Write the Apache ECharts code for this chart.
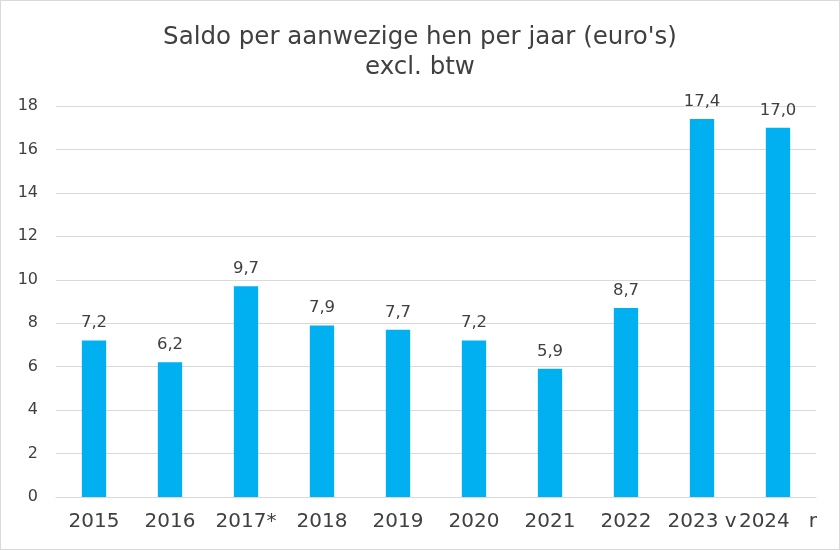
<!DOCTYPE html>
<html><head><meta charset="utf-8">
<script src="https://cdn.jsdelivr.net/npm/echarts@6/dist/echarts.min.js"></script>
<style>
html,body{margin:0;padding:0;background:#fff;}
#c{position:absolute;left:0;top:0;width:838px;height:548px;border:1px solid #d9d9d9;}
</style></head>
<body><div id="c"></div>
<script>
const categories = ['2015','2016','2017*','2018','2019','2020','2021','2022','2023 v','2024   r'];
const values = [7.2, 6.2, 9.7, 7.9, 7.7, 7.2, 5.9, 8.7, 17.4, 17.0];
const yTicks = [0, 2, 4, 6, 8, 10, 12, 14, 16, 18];
const FONT = "'DejaVu Sans', Verdana, sans-serif";

const chart = echarts.init(document.getElementById('c'));
chart.setOption({
  animation: false,
  title: {
    text: "Saldo per aanwezige hen per jaar (euro's)\nexcl. btw",
    left: 'center', top: 17,
    textStyle: {fontFamily: FONT, fontSize: 24.5, fontWeight: 'normal', color: '#404040', lineHeight: 30}
  },
  grid: {left: 55, right: 23, top: 105, bottom: 52, containLabel: false},
  xAxis: {
    type: 'category', data: categories,
    axisLine: {lineStyle: {color: '#d9d9d9'}},
    axisTick: {show: false},
    axisLabel: {fontFamily: FONT, fontSize: 20, color: '#404040', margin: 15, interval: 0}
  },
  yAxis: {
    type: 'value', min: 0, max: 18, interval: 2,
    axisLine: {show: false}, axisTick: {show: false},
    axisLabel: {fontFamily: FONT, fontSize: 16, color: '#404040', margin: 18},
    splitLine: {lineStyle: {color: '#d9d9d9', width: 1}}
  },
  series: [{
    type: 'bar', data: values, barWidth: '32%',
    itemStyle: {color: '#00b0f0'},
    label: {show: true, position: 'top', distance: 9,
      fontFamily: FONT, fontSize: 16.5, color: '#404040',
      formatter: p => p.value.toFixed(1).replace('.', ',')}
  }]
});
</script></body></html>
